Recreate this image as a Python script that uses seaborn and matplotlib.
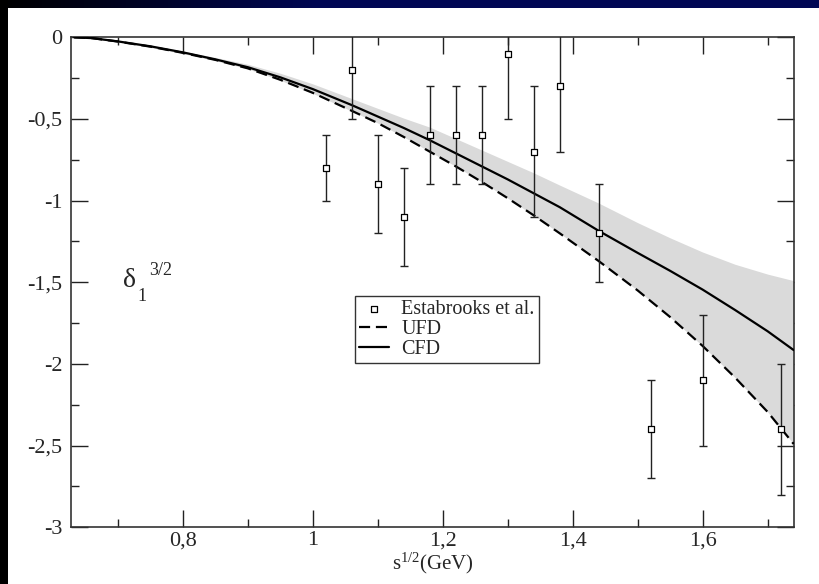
import numpy as np
import pandas as pd
import matplotlib
matplotlib.use("Agg")
import matplotlib.pyplot as plt
import seaborn as sns
from matplotlib.ticker import MultipleLocator, FuncFormatter

# ---- data ----
x_curve = [0.633, 0.66, 0.70, 0.75, 0.80, 0.85, 0.90, 0.95, 1.00, 1.06, 1.10, 1.14, 1.18,
           1.22, 1.26, 1.30, 1.34, 1.38, 1.44, 1.50, 1.55, 1.60, 1.65, 1.70, 1.74]
cfd = [0.0, -0.005, -0.025, -0.055, -0.092, -0.135, -0.183, -0.245, -0.317, -0.415, -0.485, -0.555, -0.63,
       -0.71, -0.79, -0.87, -0.955, -1.04, -1.185, -1.32, -1.43, -1.545, -1.67, -1.80, -1.915]
ufd = [0.0, -0.005, -0.026, -0.057, -0.095, -0.138, -0.19, -0.26, -0.34, -0.45, -0.525, -0.61, -0.70,
       -0.79, -0.885, -0.985, -1.09, -1.20, -1.37, -1.55, -1.713, -1.89, -2.084, -2.294, -2.49]
band_upper = [0.0, -0.003, -0.02, -0.048, -0.085, -0.123, -0.165, -0.22, -0.285, -0.375, -0.435, -0.495, -0.55,
              -0.62, -0.69, -0.76, -0.83, -0.905, -1.015, -1.135, -1.228, -1.315, -1.39, -1.45, -1.49]
band_lower = [0.0, -0.007, -0.03, -0.062, -0.10, -0.143, -0.193, -0.263, -0.343, -0.452, -0.525, -0.61, -0.70,
              -0.79, -0.885, -0.985, -1.09, -1.20, -1.37, -1.55, -1.713, -1.89, -2.084, -2.294, -2.49]

exp_x = [1.02, 1.06, 1.10, 1.14, 1.18, 1.22, 1.26, 1.30, 1.34, 1.38, 1.44, 1.52, 1.60, 1.72]
exp_y = [-0.8, -0.2, -0.9, -1.1, -0.6, -0.6, -0.6, -0.1, -0.7, -0.3, -1.2, -2.4, -2.1, -2.4]
exp_err = [0.2, 0.3, 0.3, 0.3, 0.3, 0.3, 0.3, 0.4, 0.4, 0.4, 0.3, 0.3, 0.4, 0.4]

x_ticks = [0.8, 1.0, 1.2, 1.4, 1.6]
y_ticks = [0, -0.5, -1, -1.5, -2, -2.5, -3]

curves = pd.DataFrame({"x": x_curve, "CFD": cfd, "UFD": ufd,
                       "upper": band_upper, "lower": band_lower})
exp = pd.DataFrame({"x": exp_x, "y": exp_y, "err": exp_err})

sns.set_style("ticks")
plt.rcParams["font.family"] = ["Liberation Serif", "DejaVu Serif"]
plt.rcParams["mathtext.fontset"] = "custom"
plt.rcParams["mathtext.rm"] = "Liberation Serif"
plt.rcParams["mathtext.it"] = "Liberation Serif:italic"

W, H = 819, 584
fig = plt.figure(figsize=(W / 100, H / 100), dpi=100)
fig.patch.set_facecolor("white")

# background frame (dark strips at top and left)
bg = fig.add_axes([0, 0, 1, 1], zorder=-10)
img = np.ones((H, W, 3))
t = np.clip(np.arange(W) / 320.0, 0, 1)
img[:8, :, 0] = 0.0
img[:8, :, 1] = 0.03 * t
img[:8, :, 2] = 0.33 * t
img[:, :8, :] = 0.0
bg.imshow(img, aspect="auto", extent=[0, 1, 0, 1], interpolation="nearest")
bg.axis("off")

ax = fig.add_axes([71 / W, 1 - 527.3 / H, (794 - 71) / W, (527.3 - 37.3) / H])
ax.set_facecolor("white")

ax.fill_between(curves["x"], curves["lower"], curves["upper"], color="#dadada", lw=0, zorder=1)
sns.lineplot(data=curves, x="x", y="UFD", ax=ax, color="black", lw=1.6,
             linestyle=(0, (5, 2.6)), label="UFD", zorder=3)
sns.lineplot(data=curves, x="x", y="CFD", ax=ax, color="black", lw=1.6,
             label="CFD", zorder=3)
ax.errorbar(exp["x"], exp["y"], yerr=exp["err"], fmt="none", ecolor="#222222",
            elinewidth=1.0, capsize=2.6, capthick=1.0, zorder=4)
sns.scatterplot(data=exp, x="x", y="y", ax=ax, marker="s", s=16, facecolor="white",
                edgecolor="black", linewidth=0.9, label="Estabrooks et al.", zorder=5)

ax.set_xlim(0.628, 1.7405)
ax.set_ylim(-3, 0)
ax.set_xticks(x_ticks)
ax.set_yticks(y_ticks)
ax.xaxis.set_minor_locator(MultipleLocator(0.1))
ax.yaxis.set_minor_locator(MultipleLocator(0.25))
fmt = FuncFormatter(lambda v, p: ("%g" % round(v, 3)).replace(".", ",") if abs(v) > 1e-9 else "0")
ax.xaxis.set_major_formatter(fmt)
ax.yaxis.set_major_formatter(fmt)
ax.tick_params(which="both", direction="in", top=True, right=True, color="#222222",
               labelsize=16, width=1.0)
ax.tick_params(which="major", length=12)
ax.tick_params(axis="y", which="major", pad=6)
ax.tick_params(axis="x", which="major", pad=3)
ax.tick_params(which="minor", length=6)
for s in ax.spines.values():
    s.set_color("#333333")
    s.set_linewidth(1.2)

ax.set_xlabel(r"s$^{1/2}$(GeV)", fontsize=15, labelpad=0)
ax.set_ylabel("")

ax.text(0.7174, -1.492, "δ", fontsize=20, ha="center", va="center")
ax.text(0.7366, -1.584, "1", fontsize=13, ha="center", va="center")
ax.text(0.7666, -1.425, "3/2", fontsize=13, ha="center", va="center")

handles, labels = ax.get_legend_handles_labels()
order = [labels.index("Estabrooks et al."), labels.index("UFD"), labels.index("CFD")]
leg = ax.legend([handles[i] for i in order], [labels[i] for i in order],
                loc="upper left", bbox_to_anchor=(0.393, 0.472), borderaxespad=0,
                fancybox=False, framealpha=1, edgecolor="#333333", fontsize=14.5,
                handlelength=1.5, handletextpad=0.6, borderpad=0.2, labelspacing=0.05)
leg.get_frame().set_linewidth(1.0)

fig.savefig("out.png", dpi=100)
